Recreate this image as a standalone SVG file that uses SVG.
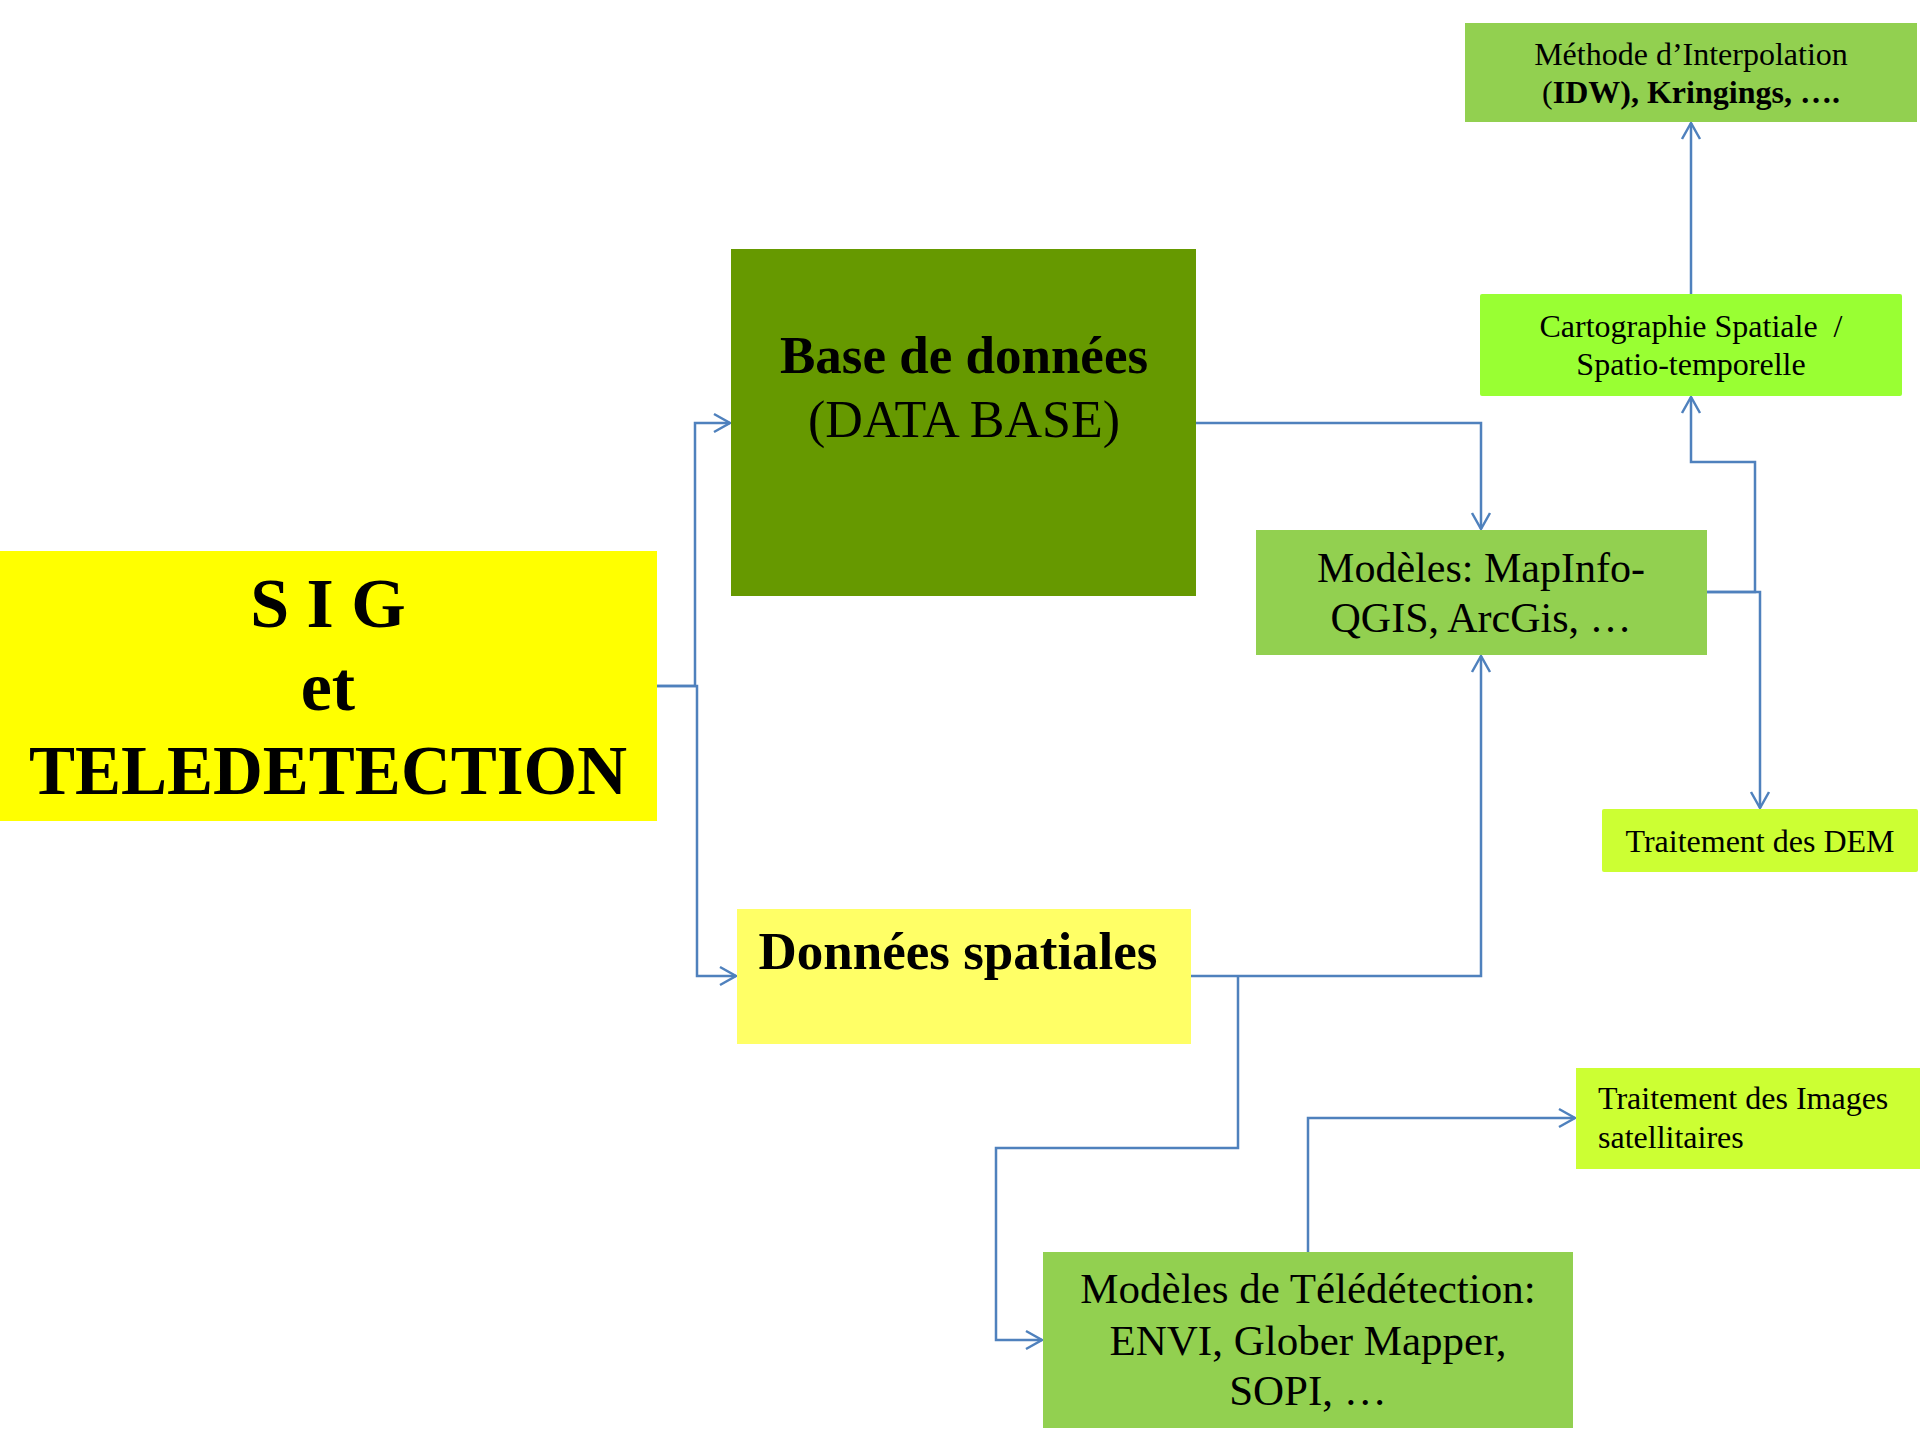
<svg xmlns="http://www.w3.org/2000/svg" width="1920" height="1440" viewBox="0 0 1920 1440">
<defs>
<style>
.t{font-family:"Liberation Serif","Times New Roman",serif;fill:#000}
.b{font-weight:bold}
.c{fill:none;stroke:#4F81BD;stroke-width:2.5;marker-end:url(#arr)}
</style>
<marker id="arr" markerUnits="userSpaceOnUse" markerWidth="24" markerHeight="24" viewBox="-20 -12 24 24" refX="0" refY="0" orient="auto">
<path d="M-16,-9 L0,0 L-16,9" fill="none" stroke="#4F81BD" stroke-width="2.5"/>
</marker>
</defs>
<rect width="1920" height="1440" fill="#fff"/>
<g id="connectors">
<path class="c" d="M657,686 H695 V423 H730"/>
<path class="c" d="M657,686 H697 V976 H736"/>
<path class="c" d="M1196,423 H1481 V529"/>
<path class="c" d="M1191,976 H1481 V656"/>
<path class="c" d="M1238,976 V1148 H996 V1340 H1042"/>
<path class="c" d="M1707,592 H1755 V462 H1691 V397"/>
<path class="c" d="M1707,592 H1760 V808"/>
<path class="c" d="M1691,294 V123"/>
<path class="c" d="M1308,1252 V1118 H1575"/>
</g>
<g id="sig">
<rect x="0" y="551" width="657" height="270" fill="#FFFF00"/>
<text class="t b" x="328" y="627" font-size="70" text-anchor="middle">S I G</text>
<text class="t b" x="328" y="710" font-size="70" text-anchor="middle">et</text>
<text class="t b" x="328" y="794" font-size="69" text-anchor="middle">TELEDETECTION</text>
</g>
<g id="base">
<rect x="731" y="249" width="465" height="347" fill="#669900"/>
<text class="t b" x="964" y="373" font-size="53" text-anchor="middle">Base de données</text>
<text class="t" x="964" y="437" font-size="52" text-anchor="middle">(DATA BASE)</text>
</g>
<g id="donnees">
<rect x="737" y="909" width="454" height="135" fill="#FFFF66"/>
<text class="t b" x="958" y="969" font-size="53" text-anchor="middle">Données spatiales</text>
</g>
<g id="modeles">
<rect x="1256" y="530" width="451" height="125" fill="#92D050"/>
<text class="t" x="1481" y="582" font-size="42" text-anchor="middle">Modèles: MapInfo-</text>
<text class="t" x="1481" y="632" font-size="42" text-anchor="middle">QGIS, ArcGis, …</text>
</g>
<g id="cartographie">
<rect x="1480" y="294" width="422" height="102" rx="2" fill="#99FF33"/>
<text class="t" x="1691" y="337" font-size="32" text-anchor="middle" xml:space="preserve">Cartographie Spatiale  /</text>
<text class="t" x="1691" y="375" font-size="32" text-anchor="middle">Spatio-temporelle</text>
</g>
<g id="methode">
<rect x="1465" y="23" width="452" height="99" fill="#92D050"/>
<text class="t" x="1691" y="65" font-size="32" text-anchor="middle">Méthode d’Interpolation</text>
<text class="t" x="1691" y="103" font-size="32" text-anchor="middle">(<tspan class="b">IDW), Kringings, ….</tspan></text>
</g>
<g id="dem">
<rect x="1602" y="809" width="316" height="63" rx="2" fill="#CCFF33"/>
<text class="t" x="1760" y="852" font-size="32" text-anchor="middle">Traitement des DEM</text>
</g>
<g id="images">
<rect x="1576" y="1068" width="344" height="101" fill="#CCFF33"/>
<text class="t" x="1598" y="1109" font-size="32">Traitement des Images</text>
<text class="t" x="1598" y="1148" font-size="32">satellitaires</text>
</g>
<g id="teledetection">
<rect x="1043" y="1252" width="530" height="176" fill="#92D050"/>
<text class="t" x="1308" y="1303" font-size="43" text-anchor="middle">Modèles de Télédétection:</text>
<text class="t" x="1308" y="1355" font-size="43" text-anchor="middle">ENVI, Glober Mapper,</text>
<text class="t" x="1308" y="1405" font-size="43" text-anchor="middle">SOPI, …</text>
</g>
</svg>
